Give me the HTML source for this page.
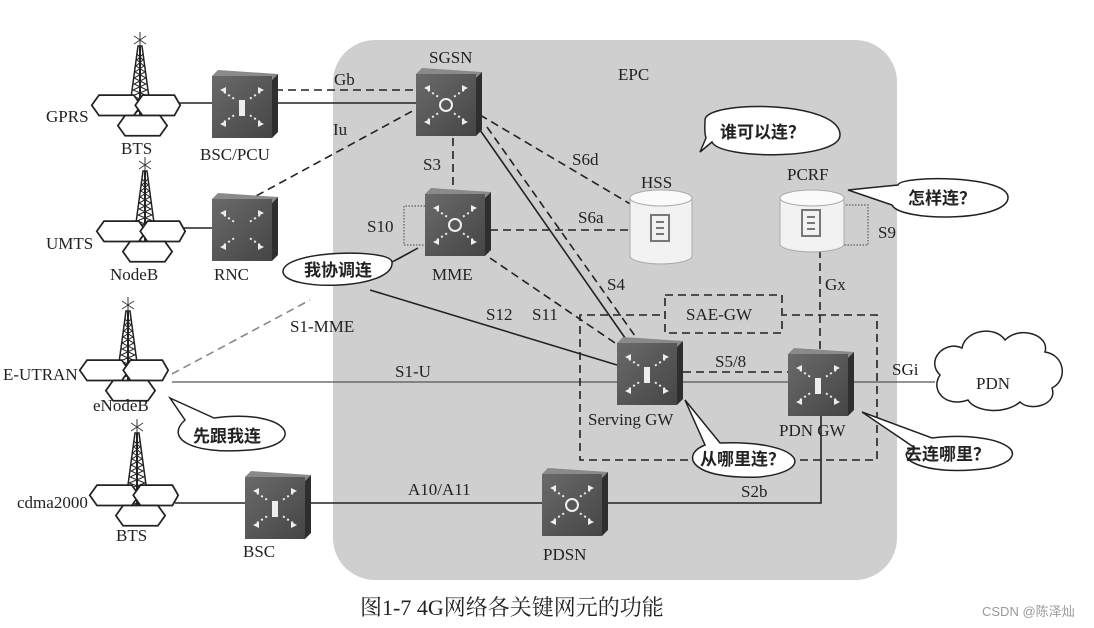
<!DOCTYPE html>
<html><head><meta charset="utf-8"><style>
html,body{margin:0;padding:0;background:#fff;}
svg{display:block;}
text{font-family:"Liberation Serif","Noto Serif CJK SC",serif;fill:#222;}
.cn{font-family:"Liberation Serif","Noto Sans CJK SC",sans-serif;font-weight:bold;}
</style></head><body>
<svg width="1094" height="628" viewBox="0 0 1094 628" xmlns="http://www.w3.org/2000/svg">
<defs>
<linearGradient id="dg" x1="0" y1="0" x2="1" y2="1"><stop offset="0" stop-color="#6a6a6a"/><stop offset="1" stop-color="#454545"/></linearGradient>
<g id="dev">
 <polygon points="0,6 6,0 66,4 60,10" fill="#8a8a8a"/>
 <polygon points="60,10 66,4 66,62 60,68" fill="#2e2e2e"/>
 <rect x="0" y="6" width="60" height="62" fill="url(#dg)"/>
 <g stroke="#eee" stroke-width="2" fill="none" stroke-dasharray="2 3">
  <path d="M12 22 L24 30 M48 22 L36 30 M12 52 L24 44 M48 52 L36 44"/>
 </g>
 <g fill="#eee"><path d="M8 20 l6 -3 v6z M52 20 l-6 -3 v6z M8 54 l6 -3 v6z M52 54 l-6 -3 v6z"/></g>
</g>
<g id="ring"><circle cx="30" cy="37" r="6" fill="none" stroke="#eee" stroke-width="2"/></g>
<g id="bar"><rect x="27" y="30" width="6" height="16" fill="#eee"/></g>
<g id="tower">
 <line x1="0" y1="-8" x2="0" y2="6" stroke="#333"/>
 <path d="M-6 -4 L6 4 M6 -4 L-6 4" stroke="#333" stroke-width="0.8"/>
 <polygon points="-2,6 2,6 12,80 -12,80" fill="#fff" stroke="#222" stroke-width="1.5"/>
 <path d="M-3 14 L3 20 L-4 26 L5 32 L-6 38 L6 44 L-7 50 L8 56 L-9 62 L9 68 L-10 74 L10 80 M3 14 L-3 20 L4 26 L-5 32 L6 38 L-6 44 L7 50 L-8 56 L9 62 L-9 68 L10 74 L-10 80" stroke="#222" stroke-width="1" fill="none"/>
 <line x1="0" y1="6" x2="0" y2="80" stroke="#222" stroke-width="2"/>
</g>
<g id="hex" fill="#fff" stroke="#222" stroke-width="1.2">
 <polygon points="-25,-6 -20,-13 4,-13 9,-6 4,1 -20,1"/>
 <polygon points="5,-6 10,-13 32,-13 36,-6 32,1 10,1"/>
 <polygon points="-7,8 -2,1 22,1 27,8 22,15 -2,15"/>
</g>
</defs>

<rect x="333" y="40" width="564" height="540" rx="42" fill="#cfcfcf"/>

<g stroke="#222" stroke-width="1.6" fill="none">
 <line x1="170" y1="103" x2="215" y2="103"/>
 <line x1="275" y1="103" x2="418" y2="103"/>
 <line x1="170" y1="228" x2="214" y2="228"/>
 <line x1="480" y1="130" x2="630" y2="345"/>
 <line x1="370" y1="290" x2="617" y2="365"/>
 <line x1="172" y1="382" x2="620" y2="382" stroke="#555" stroke-width="1.2"/>
 <line x1="680" y1="382" x2="790" y2="382" stroke="#555" stroke-width="1.2"/>
 <line x1="850" y1="382" x2="935" y2="382" stroke="#555" stroke-width="1.2"/>
 <line x1="175" y1="503" x2="247" y2="503"/>
 <line x1="308" y1="503" x2="543" y2="503"/>
 <polyline points="602,503 821,503 821,415"/>
</g>
<g stroke="#222" stroke-width="1.6" fill="none" stroke-dasharray="8 5">
 <line x1="275" y1="90" x2="418" y2="90"/>
 <line x1="245" y1="202" x2="418" y2="108"/>
 <line x1="453" y1="138" x2="453" y2="190"/>
 <line x1="480" y1="115" x2="632" y2="205"/>
 <line x1="490" y1="230" x2="632" y2="230"/>
 <line x1="487" y1="127" x2="640" y2="343"/>
 <line x1="490" y1="258" x2="618" y2="345"/>
 <line x1="683" y1="372" x2="790" y2="372"/>
 <line x1="820" y1="250" x2="820" y2="355"/>
 <polyline points="660,315 580,315 580,460 690,460"/>
 <polyline points="800,460 877,460 877,315 783,315"/>
 <rect x="665" y="295" width="117" height="38"/>
 <line x1="172" y1="374" x2="310" y2="300" stroke="#888"/>
</g>
<g stroke="#444" stroke-width="1" fill="none" stroke-dasharray="1.5 1.5">
 <polyline points="425,206 404,206 404,245 425,245"/>
 <polyline points="843,205 868,205 868,245 843,245"/>
</g>

<use href="#tower" x="140" y="40"/><use href="#hex" transform="translate(128,114) scale(1.45)"/>
<use href="#tower" x="145" y="165"/><use href="#hex" transform="translate(133,240) scale(1.45)"/>
<use href="#tower" x="128" y="305"/><use href="#hex" transform="translate(116,379) scale(1.45)"/>
<use href="#tower" x="137" y="427"/><use href="#hex" transform="translate(126,504) scale(1.45)"/>

<use href="#dev" x="212" y="70"/><use href="#bar" x="212" y="70"/>
<use href="#dev" x="416" y="68"/><use href="#ring" x="416" y="68"/>
<use href="#dev" x="212" y="193"/>
<use href="#dev" x="425" y="188"/><use href="#ring" x="425" y="188"/>
<use href="#dev" x="617" y="337"/><use href="#bar" x="617" y="337"/>
<use href="#dev" x="788" y="348"/><use href="#bar" x="788" y="348"/>
<use href="#dev" x="245" y="471"/><use href="#bar" x="245" y="471"/>
<use href="#dev" x="542" y="468"/><use href="#ring" x="542" y="468"/>

<g fill="#f2f2f2" stroke="#aaa">
 <path d="M630 198 v58 a31 8 0 0 0 62 0 v-58"/>
 <ellipse cx="661" cy="198" rx="31" ry="8" fill="#fafafa"/>
 <path d="M780 198 v46 a32 8 0 0 0 64 0 v-46"/>
 <ellipse cx="812" cy="198" rx="32" ry="8" fill="#fafafa"/>
</g>
<g fill="none" stroke="#777" stroke-width="2">
 <rect x="651" y="215" width="18" height="26"/><path d="M656 222 h8 M656 228 h8 M656 234 h8"/>
 <rect x="802" y="210" width="18" height="26"/><path d="M807 217 h8 M807 223 h8 M807 229 h8"/>
</g>

<path d="M940 375 C925 360 945 340 962 348 C965 330 995 325 1005 340 C1020 325 1050 335 1045 352 C1065 355 1068 380 1052 388 C1058 405 1030 412 1020 402 C1005 415 975 412 968 400 C945 408 930 390 940 375Z" fill="#fff" stroke="#222" stroke-width="1.5"/>

<g fill="#fff" stroke="#222" stroke-width="1.5">
 <path d="M705 120 C705 100 840 100 840 135 C840 160 720 160 712 142 L700 152 L706 138 C704 132 705 126 705 120Z"/>
 <path d="M400 258 L418 248 L392 262 C395 290 285 292 283 272 C282 250 390 248 392 262Z"/>
 <path d="M848 190 L898 185 C900 175 1010 175 1008 198 C1006 222 900 222 892 205 Z"/>
 <path d="M170 398 L214 418 C290 408 310 445 250 450 C190 455 165 438 185 420 Z"/>
 <path d="M685 400 L720 443 C800 440 820 470 760 477 C690 480 680 455 705 445 Z"/>
 <path d="M862 412 L932 438 C1000 430 1040 455 990 468 C920 478 890 455 915 448 Z"/>
</g>

<g font-size="17">
 <text x="46" y="122">GPRS</text>
 <text x="121" y="154">BTS</text>
 <text x="200" y="160">BSC/PCU</text>
 <text x="429" y="63">SGSN</text>
 <text x="334" y="85">Gb</text>
 <text x="333" y="135">Iu</text>
 <text x="618" y="80">EPC</text>
 <text x="423" y="170">S3</text>
 <text x="572" y="165">S6d</text>
 <text x="641" y="188">HSS</text>
 <text x="787" y="180">PCRF</text>
 <text x="578" y="223">S6a</text>
 <text x="367" y="232">S10</text>
 <text x="878" y="238">S9</text>
 <text x="46" y="249">UMTS</text>
 <text x="110" y="280">NodeB</text>
 <text x="214" y="280">RNC</text>
 <text x="432" y="280">MME</text>
 <text x="607" y="290">S4</text>
 <text x="825" y="290">Gx</text>
 <text x="686" y="320">SAE-GW</text>
 <text x="290" y="332">S1-MME</text>
 <text x="486" y="320">S12</text>
 <text x="532" y="320">S11</text>
 <text x="3" y="380">E-UTRAN</text>
 <text x="395" y="377">S1-U</text>
 <text x="715" y="367">S5/8</text>
 <text x="892" y="375">SGi</text>
 <text x="976" y="389">PDN</text>
 <text x="93" y="411">eNodeB</text>
 <text x="588" y="425">Serving GW</text>
 <text x="779" y="436">PDN GW</text>
 <text x="17" y="508">cdma2000</text>
 <text x="408" y="495">A10/A11</text>
 <text x="741" y="497">S2b</text>
 <text x="116" y="541">BTS</text>
 <text x="243" y="557">BSC</text>
 <text x="543" y="560">PDSN</text>
</g>
<g font-size="17" class="cn">
 <text x="720" y="138" class="cn">谁可以连？</text>
 <text x="304" y="276" class="cn">我协调连</text>
 <text x="908" y="204" class="cn">怎样连？</text>
 <text x="193" y="442" class="cn">先跟我连</text>
 <text x="700" y="465" class="cn">从哪里连？</text>
 <text x="905" y="460" class="cn">去连哪里？</text>
</g>
<text x="360" y="615" font-size="22">图1-7 4G网络各关键网元的功能</text>
<text x="982" y="616" font-size="13" style="font-family:'Liberation Sans','Noto Sans CJK SC',sans-serif;fill:#999">CSDN @陈泽灿</text>
</svg>
</body></html>
